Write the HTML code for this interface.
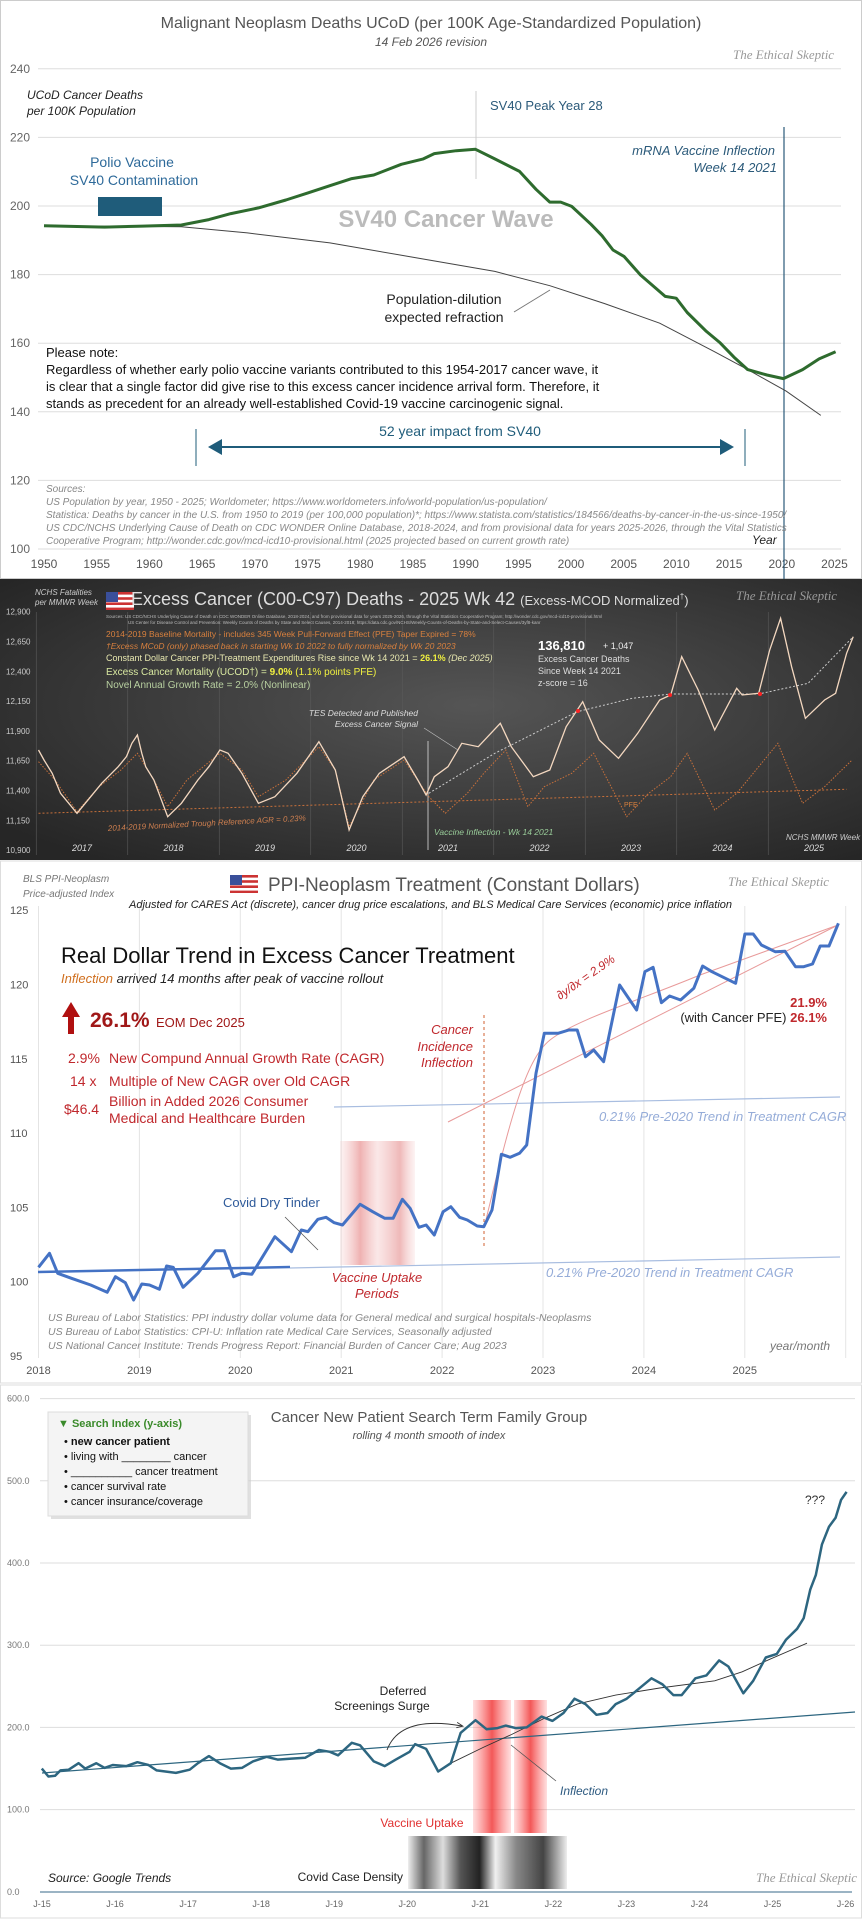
<!DOCTYPE html>
<html><head><meta charset="utf-8"><style>
html,body{margin:0;padding:0;background:#fff;}
svg{display:block;font-family:"Liberation Sans","DejaVu Sans",sans-serif;}
.wm{font-family:"Liberation Serif",serif;font-style:italic;fill:#999;font-size:13px;}
</style></head><body>
<svg id="s" width="862" height="1922" viewBox="0 0 862 1922" xmlns="http://www.w3.org/2000/svg">
<defs>
<radialGradient id="dk" cx="0.55" cy="0.45" r="0.7">
<stop offset="0" stop-color="#555"/><stop offset="1" stop-color="#262626"/></radialGradient>
<linearGradient id="pk" x1="0" x2="1" y1="0" y2="0">
<stop offset="0" stop-color="#f4c4c4" stop-opacity="0.2"/><stop offset="0.27" stop-color="#e89090" stop-opacity="0.7"/>
<stop offset="0.5" stop-color="#f6d0d0" stop-opacity="0.5"/><stop offset="0.8" stop-color="#e89a9a" stop-opacity="0.7"/>
<stop offset="1" stop-color="#f4c4c4" stop-opacity="0.2"/></linearGradient>
<linearGradient id="rd" x1="0" x2="1" y1="0" y2="0">
<stop offset="0" stop-color="#ff6060" stop-opacity="0.2"/><stop offset="0.5" stop-color="#f03a3a" stop-opacity="0.85"/><stop offset="1" stop-color="#ff6060" stop-opacity="0.2"/></linearGradient>
<linearGradient id="gr" x1="0" x2="1" y1="0" y2="0">
<stop offset="0" stop-color="#eee"/><stop offset="0.1" stop-color="#666"/><stop offset="0.22" stop-color="#ddd"/><stop offset="0.33" stop-color="#555"/>
<stop offset="0.45" stop-color="#222"/><stop offset="0.55" stop-color="#f0f0f0"/><stop offset="0.68" stop-color="#888"/><stop offset="0.85" stop-color="#444"/><stop offset="1" stop-color="#eee"/></linearGradient>
<marker id="ah" markerWidth="8" markerHeight="8" refX="6" refY="4" orient="auto"><path d="M0,0 L7,4 L0,8 z" fill="#1f5c7a"/></marker>
<marker id="ak" markerWidth="8" markerHeight="8" refX="6" refY="4" orient="auto"><path d="M0,1 L7,4 L0,7" fill="none" stroke="#333"/></marker>
<g id="flag"><rect width="28" height="18" fill="#c33"/><rect y="2.6" width="28" height="2.6" fill="#fff"/><rect y="7.8" width="28" height="2.6" fill="#fff"/><rect y="13" width="28" height="2.6" fill="#fff"/><rect width="12" height="10" fill="#3a4f9a"/></g>
</defs>

<!-- PANEL 1 -->
<rect x="0.5" y="0.5" width="861" height="578" fill="#fff" stroke="#ccc"/>
<g id="p1grid" stroke="#ddd" stroke-width="1"></g>
<text x="431" y="28" text-anchor="middle" font-size="16" fill="#555">Malignant Neoplasm Deaths UCoD (per 100K Age-Standardized Population)</text>
<text x="431" y="46" text-anchor="middle" font-size="12" font-style="italic" fill="#555">14 Feb 2026 revision</text>
<text x="733" y="59" class="wm" font-size="12">The Ethical Skeptic</text>
<g font-size="12" fill="#666" id="p1y"></g>
<g font-size="12" fill="#555" id="p1x"></g>
<text x="27" y="99" font-size="12" font-style="italic" fill="#222">UCoD Cancer Deaths</text>
<text x="27" y="115" font-size="12" font-style="italic" fill="#222">per 100K Population</text>
<line x1="476" y1="91" x2="476" y2="179" stroke="#ccc"/>
<text x="490" y="110" font-size="13" fill="#2b5a7a">SV40  Peak Year 28</text>
<line x1="784" y1="127" x2="784" y2="579" stroke="#2b5a7a" stroke-width="1.2"/>
<text x="775" y="155" text-anchor="end" font-size="13" font-style="italic" fill="#2b5a7a">mRNA Vaccine Inflection</text>
<text x="777" y="172" text-anchor="end" font-size="13" font-style="italic" fill="#2b5a7a">Week 14 2021</text>
<text x="132" y="167" text-anchor="middle" font-size="14" fill="#2e6a9a">Polio Vaccine</text>
<text x="134" y="185" text-anchor="middle" font-size="14" fill="#2e6a9a">SV40 Contamination</text>
<rect x="98" y="197" width="64" height="19" fill="#1f5c7a"/>
<text x="446" y="227" text-anchor="middle" font-size="24" font-weight="bold" fill="#bbb">SV40 Cancer Wave</text>
<polyline id="p1blk" fill="none" stroke="#444" stroke-width="1"/>
<polyline id="p1g" fill="none" stroke="#2e6b2e" stroke-width="3" stroke-linejoin="round"/>
<text x="444" y="304" text-anchor="middle" font-size="14" fill="#222">Population-dilution</text>
<text x="444" y="322" text-anchor="middle" font-size="14" fill="#222">expected refraction</text>
<line x1="514" y1="312" x2="550" y2="290" stroke="#777"/>
<g font-size="13" fill="#111">
<text x="46" y="357">Please note:</text>
<text x="46" y="374">Regardless of whether early polio vaccine variants contributed to this 1954-2017 cancer wave, it</text>
<text x="46" y="391">is clear that a single factor did give rise to this excess cancer incidence arrival form. Therefore, it</text>
<text x="46" y="408">stands as precedent for an already well-established  Covid-19 vaccine carcinogenic signal.</text>
</g>
<text x="460" y="436" text-anchor="middle" font-size="14" fill="#1f5c7a">52 year impact from SV40</text>
<line x1="196" y1="429" x2="196" y2="466" stroke="#1f5c7a"/>
<line x1="745" y1="429" x2="745" y2="466" stroke="#1f5c7a"/>
<line x1="210" y1="447" x2="732" y2="447" stroke="#1f5c7a" stroke-width="2" marker-end="url(#ah)"/>
<line x1="732" y1="447" x2="210" y2="447" stroke="#1f5c7a" stroke-width="2" marker-end="url(#ah)"/>
<g font-size="10" font-style="italic" fill="#888">
<text x="46" y="492">Sources:</text>
<text x="46" y="505">US Population by year, 1950 - 2025; Worldometer; https://www.worldometers.info/world-population/us-population/</text>
<text x="46" y="518">Statistica: Deaths by cancer in the U.S. from 1950 to 2019 (per 100,000 population)*; https://www.statista.com/statistics/184566/deaths-by-cancer-in-the-us-since-1950/</text>
<text x="46" y="531">US CDC/NCHS Underlying Cause of Death on CDC WONDER Online Database, 2018-2024, and from provisional data for years 2025-2026, through the Vital Statistics</text>
<text x="46" y="544">Cooperative Program; http://wonder.cdc.gov/mcd-icd10-provisional.html (2025 projected based on current growth rate)</text>
</g>
<text x="752" y="544" font-size="12" font-style="italic" fill="#222">Year</text>

<!-- PANEL 2 -->
<rect x="0" y="579" width="862" height="281" fill="url(#dk)"/>
<g id="p2grid" stroke="#5a5a5a" stroke-width="0.6"></g>
<g font-size="8" fill="#ccc" id="p2y"></g>
<g font-size="9" fill="#ddd" font-style="italic" id="p2x"></g>
<text x="35" y="595" font-size="8" font-style="italic" fill="#ccc">NCHS Fatalities</text>
<text x="35" y="605" font-size="8" font-style="italic" fill="#ccc">per MMWR Week</text>
<use href="#flag" x="106" y="592"/>
<text x="131" y="605" font-size="18" fill="#ddd">Excess Cancer (C00-C97) Deaths - 2025 Wk 42 <tspan font-size="13">(Excess-MCOD  Normalized</tspan><tspan font-size="8" dy="-6">†</tspan><tspan font-size="13" dy="6">)</tspan></text>
<text x="736" y="600" class="wm" font-size="11" fill="#aaa">The Ethical Skeptic</text>
<text x="106" y="618" font-size="4.5" fill="#bbb">Sources:   US CDC/NCHS Underlying Cause of Death on CDC WONDER Online Database, 2018-2024, and from provisional data for years 2025-2026, through the Vital Statistics Cooperative Program; http://wonder.cdc.gov/mcd-icd10-provisional.html</text>
<text x="128" y="624" font-size="4.5" fill="#bbb">US Center for Disease Control and Prevention: Weekly Counts of Deaths by State and Select Causes, 2014-2018; https://data.cdc.gov/NCHS/Weekly-Counts-of-Deaths-by-State-and-Select-Causes/3yf8-kanr</text>
<text x="106" y="637" font-size="8.5" fill="#d8803e">2014-2019 Baseline Mortality - includes 345 Week Pull-Forward Effect (PFE) Taper Expired =   78%</text>
<text x="106" y="649" font-size="8.5" font-style="italic" fill="#d8803e">†Excess MCoD (only) phased back in starting Wk 10 2022 to fully normalized by Wk 20 2023</text>
<text x="106" y="661" font-size="9" fill="#e8e8b0">Constant Dollar Cancer PPI-Treatment Expenditures Rise since Wk 14 2021 = <tspan fill="#f0f040" font-weight="bold">26.1%</tspan> <tspan font-style="italic">(Dec 2025)</tspan></text>
<text x="106" y="675" font-size="10" fill="#d8e8a0">Excess Cancer Mortality (UCOD†) =   <tspan fill="#f0f040" font-weight="bold">9.0%</tspan>   <tspan fill="#f0f040">(1.1%  points PFE)</tspan></text>
<text x="106" y="688" font-size="10" fill="#b8d0a0">Novel Annual Growth Rate  =          2.0%    (Nonlinear)</text>
<text x="538" y="650" font-size="13" font-weight="bold" fill="#fff">136,810</text>
<text x="603" y="649" font-size="9" fill="#eee">+ 1,047</text>
<text x="538" y="662" font-size="9" fill="#ddd">Excess Cancer Deaths</text>
<text x="538" y="674" font-size="9" fill="#ddd">Since Week 14 2021</text>
<text x="538" y="686" font-size="9" fill="#ddd">z-score =  16</text>
<line x1="428" y1="741" x2="428" y2="850" stroke="#ddd" stroke-width="0.8"/>
<polyline id="p2tr" fill="none" stroke="#c8703a" stroke-width="1" stroke-dasharray="2,2"/>
<polyline id="p2o" fill="none" stroke="#c8703a" stroke-width="1" stroke-dasharray="1.5,1.5"/>
<polyline id="p2d" fill="none" stroke="#ccc" stroke-width="1" stroke-dasharray="2,2"/>
<polyline id="p2w" fill="none" stroke="#f4d8c0" stroke-width="1.3"/>
<g fill="#f22"><circle cx="578" cy="711" r="2"/><circle cx="670" cy="695" r="2"/><circle cx="760" cy="694" r="2"/></g>
<text x="418" y="716" text-anchor="end" font-size="8.5" font-style="italic" fill="#ddd">TES Detected and Published</text>
<text x="418" y="727" text-anchor="end" font-size="8.5" font-style="italic" fill="#ddd">Excess Cancer Signal</text>
<line x1="424" y1="728" x2="458" y2="750" stroke="#bbb" stroke-width="0.7"/>
<text x="434" y="835" font-size="8.5" font-style="italic" fill="#9c9">Vaccine Inflection - Wk 14 2021</text>
<text x="108" y="831" font-size="8" font-style="italic" fill="#d08050" transform="rotate(-3 108 831)">2014-2019 Normalized  Trough Reference  AGR = 0.23%</text>
<text x="624" y="807" font-size="7" fill="#d8803e">PFE</text>
<text x="786" y="840" font-size="8" font-style="italic" fill="#ccc">NCHS MMWR Week</text>

<!-- PANEL 3 -->
<rect x="0.5" y="861" width="861" height="522" fill="#fff" stroke="#ddd"/>
<g id="p3grid" stroke="#e4e4e4" stroke-width="1"></g>
<g font-size="11" fill="#555" id="p3y"></g>
<g font-size="11" fill="#555" id="p3x"></g>
<text x="23" y="882" font-size="10" font-style="italic" fill="#777">BLS PPI-Neoplasm</text>
<text x="23" y="897" font-size="10" font-style="italic" fill="#777">Price-adjusted  Index</text>
<use href="#flag" x="230" y="875"/>
<text x="268" y="891" font-size="19" fill="#555">PPI-Neoplasm  Treatment  (Constant Dollars)</text>
<text x="728" y="886" class="wm" font-size="12">The Ethical Skeptic</text>
<text x="129" y="908" font-size="11" font-style="italic" fill="#222">Adjusted for CARES Act (discrete),  cancer drug price escalations, and BLS Medical  Care Services  (economic)  price  inflation</text>
<rect x="340" y="1141" width="75" height="124" fill="url(#pk)"/>
<line x1="484" y1="1015" x2="484" y2="1248" stroke="#d06030" stroke-dasharray="3,3"/>
<line x1="334" y1="1107" x2="840" y2="1097" stroke="#a8bde0" stroke-width="1.2"/>
<line x1="290" y1="1268" x2="840" y2="1257" stroke="#a8bde0" stroke-width="1.2"/>
<line x1="38" y1="1272" x2="290" y2="1267" stroke="#4472c4" stroke-width="2.5"/>
<line x1="448" y1="1122" x2="838" y2="925" stroke="#e89a9a" stroke-width="1"/>
<path id="p3c" fill="none" stroke="#e89a9a" stroke-width="1"/>
<polyline id="p3b" fill="none" stroke="#4472c4" stroke-width="3" stroke-linejoin="round"/>
<text x="61" y="963" font-size="22" fill="#111">Real Dollar Trend in Excess Cancer Treatment</text>
<text x="61" y="983" font-size="13" font-style="italic" fill="#222"><tspan fill="#d07020">Inflection</tspan> arrived 14 months after peak of vaccine rollout</text>
<path d="M68,1034 L68,1017 L62,1017 L71,1002 L80,1017 L74,1017 L74,1034 Z" fill="#b01010"/>
<text x="90" y="1027" font-size="21" font-weight="bold" fill="#a01818">26.1%</text>
<text x="156" y="1027" font-size="13" fill="#a01818">EOM Dec 2025</text>
<g font-size="14" fill="#c0282d">
<text x="68" y="1063">2.9%</text><text x="109" y="1063">New Compund Annual Growth Rate (CAGR)</text>
<text x="70" y="1086">14 x</text><text x="109" y="1086">Multiple of New CAGR over Old CAGR</text>
<text x="64" y="1114">$46.4</text><text x="109" y="1106">Billion in Added 2026 Consumer</text><text x="109" y="1123">Medical and Healthcare Burden</text>
</g>
<g font-size="13" font-style="italic" fill="#c0282d" text-anchor="end">
<text x="473" y="1034">Cancer</text><text x="473" y="1051">Incidence</text><text x="473" y="1067">Inflection</text></g>
<text x="560" y="1000" font-size="12" font-style="italic" fill="#c0282d" transform="rotate(-35 560 1000)">∂y/∂x = 2.9%</text>
<text x="827" y="1007" text-anchor="end" font-size="13" font-weight="bold" fill="#c0282d">21.9%</text>
<text x="827" y="1022" text-anchor="end" font-size="13" fill="#222">(with Cancer PFE)  <tspan fill="#c0282d" font-weight="bold">26.1%</tspan></text>
<text x="599" y="1121" font-size="13" font-style="italic" fill="#95acd8">0.21%  Pre-2020 Trend in Treatment CAGR</text>
<text x="546" y="1277" font-size="13" font-style="italic" fill="#95acd8">0.21%  Pre-2020 Trend in Treatment CAGR</text>
<text x="223" y="1207" font-size="13" fill="#2e5a9a">Covid Dry Tinder</text>
<line x1="285" y1="1217" x2="318" y2="1250" stroke="#555" stroke-width="0.8"/>
<text x="377" y="1282" text-anchor="middle" font-size="13" font-style="italic" fill="#c0282d">Vaccine Uptake</text>
<text x="377" y="1298" text-anchor="middle" font-size="13" font-style="italic" fill="#c0282d">Periods</text>
<g font-size="10.5" font-style="italic" fill="#888">
<text x="48" y="1321">US Bureau of Labor Statistics: PPI industry dollar volume data for General medical and surgical hospitals-Neoplasms</text>
<text x="48" y="1335">US Bureau of Labor Statistics: CPI-U: Inflation rate Medical Care Services, Seasonally adjusted</text>
<text x="48" y="1349">US National Cancer Institute: Trends Progress Report: Financial Burden of Cancer Care; Aug 2023</text></g>
<text x="770" y="1350" font-size="12" font-style="italic" fill="#777">year/month</text>

<!-- PANEL 4 -->
<rect x="0.5" y="1385" width="861" height="533" fill="#fff" stroke="#ddd"/>
<g id="p4grid" stroke="#ddd" stroke-width="1"></g>
<g font-size="9" fill="#777" id="p4y"></g>
<g font-size="9" fill="#666" id="p4x"></g>
<line x1="40" y1="1892" x2="852" y2="1892" stroke="#7a9cb0" stroke-width="1.5"/>
<text x="429" y="1422" text-anchor="middle" font-size="15" fill="#555">Cancer New Patient Search Term Family Group</text>
<text x="429" y="1439" text-anchor="middle" font-size="11" font-style="italic" fill="#555">rolling 4 month smooth of index</text>
<rect x="51" y="1415" width="200" height="104" fill="#ccc" opacity="0.6"/>
<rect x="48" y="1412" width="200" height="104" fill="#f4f4f4" stroke="#ddd"/>
<text x="58" y="1427" font-size="11" font-weight="bold" fill="#3a8a2a">▼ Search Index (y-axis)</text>
<g font-size="11" fill="#111">
<text x="64" y="1445">•  <tspan font-weight="bold">new cancer patient</tspan></text>
<text x="64" y="1460">•  living with ________ cancer</text>
<text x="64" y="1475">•  __________ cancer treatment</text>
<text x="64" y="1490">•  cancer survival rate</text>
<text x="64" y="1505">•  cancer insurance/coverage</text></g>
<rect x="473" y="1700" width="38" height="133" fill="url(#rd)"/>
<rect x="514" y="1700" width="33" height="133" fill="url(#rd)"/>
<rect x="408" y="1836" width="159" height="53" fill="url(#gr)"/>
<line x1="42" y1="1773" x2="855" y2="1712" stroke="#2d6680" stroke-width="1.2"/>
<polyline id="p4k" fill="none" stroke="#333" stroke-width="0.9"/>
<polyline id="p4b" fill="none" stroke="#2d6680" stroke-width="2.5" stroke-linejoin="round"/>
<text x="403" y="1695" text-anchor="middle" font-size="12" fill="#222">Deferred</text>
<text x="382" y="1710" text-anchor="middle" font-size="12" fill="#222">Screenings Surge</text>
<path d="M387,1750 Q400,1715 462,1726" fill="none" stroke="#333" stroke-width="0.9" marker-end="url(#ak)"/>
<line x1="511" y1="1745" x2="556" y2="1781" stroke="#555" stroke-width="0.8"/>
<text x="560" y="1795" font-size="12" font-style="italic" fill="#2d5a80">Inflection</text>
<text x="422" y="1827" text-anchor="middle" font-size="12" fill="#e03030">Vaccine Uptake</text>
<text x="403" y="1881" text-anchor="end" font-size="12" fill="#222">Covid Case Density</text>
<text x="48" y="1882" font-size="12" font-style="italic" fill="#222">Source: Google Trends</text>
<text x="815" y="1504" text-anchor="middle" font-size="12" fill="#333">???</text>
<text x="756" y="1882" class="wm" font-size="12">The Ethical Skeptic</text>
</svg>
<script>
var NS="http://www.w3.org/2000/svg";
function el(p,t,a,txt){var e=document.createElementNS(NS,t);for(var k in a)e.setAttribute(k,a[k]);if(txt!=null)e.textContent=txt;document.getElementById(p).appendChild(e);}
function pts(arr,sx,sy,oy){return arr.map(function(p){return (p[0]/sx).toFixed(1)+","+(oy+p[1]/sy).toFixed(1)}).join(" ");}
function set(id,s){document.getElementById(id).setAttribute("points",s);}
// panel1
for(var v=100;v<=240;v+=20){var y=549-(v-100)*3.43;el("p1grid","line",{x1:38,x2:841,y1:y,y2:y});el("p1y","text",{x:10,y:y+4},v);}
for(var yr=1950;yr<=2025;yr+=5){var x=44+(yr-1950)*10.54;el("p1x","text",{x:x,y:568,"text-anchor":"middle"},yr);}
var g=[[80,632],[190,636],[260,633],[330,630],[380,615],[420,598],[470,582],[520,560],[560,540],[600,520],[640,500],[680,490],[730,460],[770,445],[790,430],[830,422],[865,418],[900,445],[945,480],[975,530],[1000,566],[1020,566],[1040,578],[1075,628],[1095,660],[1115,700],[1135,718],[1165,770],[1210,830],[1230,835],[1250,875],[1285,928],[1310,960],[1335,1000],[1360,1035],[1395,1050],[1425,1060],[1460,1035],[1490,1005],[1520,985]];
set("p1g",pts(g,1.819,2.8,0));
var bk=[[80,632],[330,635],[450,652],[600,680],[750,720],[900,760],[1000,800],[1100,850],[1200,905],[1300,985],[1360,1035],[1430,1095],[1493,1163]];
set("p1blk",pts(bk,1.819,2.8,0));
// panel2
var lab=["12,900","12,650","12,400","12,150","11,900","11,650","11,400","11,150","10,900"];
for(var i=0;i<9;i++){var y=611.7+i*29.8;el("p2y","text",{x:6,y:y+3},lab[i]);}
for(var i=0;i<9;i++){var x=82+(i-0.5)*91.5;el("p2grid","line",{x1:x,x2:x,y1:612,y2:855});}
var yrs=["2017","2018","2019","2020","2021","2022","2023","2024","2025"];
for(var i=0;i<9;i++){el("p2x","text",{x:82+i*91.5,y:851,"text-anchor":"middle"},yrs[i]);}
var w=[[70,630],[80,660],[95,700],[110,760],[140,820],[165,770],[185,730],[215,680],[230,650],[240,610],[250,585],[258,640],[265,680],[280,720],[305,830],[330,790],[360,720],[380,680],[400,630],[415,640],[440,700],[470,790],[500,770],[540,700],[580,605],[610,690],[635,870],[660,770],[690,700],[735,650],[760,720],[775,765],[790,710],[815,680],[840,610],[870,620],[910,550],[930,620],[970,710],[1000,690],[1030,560],[1060,485],[1090,600],[1125,655],[1160,580],[1200,480],[1220,465],[1240,350],[1270,450],[1300,570],[1340,445],[1350,465],[1380,460],[1400,330],[1420,235],[1440,380],[1465,535],[1500,480],[1520,460],[1540,340],[1552,290]];
set("p2w",pts(w,1.819,3,540));
var o=[[70,665],[100,720],[140,815],[180,740],[220,690],[250,640],[280,720],[305,800],[340,720],[400,640],[440,690],[470,770],[520,720],[580,620],[610,690],[635,860],[680,720],[735,660],[780,770],[810,820],[850,760],[880,700],[920,630],[960,800],[990,740],[1040,700],[1080,640],[1140,830],[1180,760],[1220,710],[1250,640],[1300,810],[1340,760],[1380,680],[1415,610],[1460,790],[1500,740],[1550,660]];
set("p2o",pts(o,1.819,3,540));
set("p2tr",pts([[70,820],[1540,748]],1.819,3,540));
set("p2d",pts([[780,760],[900,640],[1050,515],[1150,475],[1220,462],[1380,462],[1470,430],[1552,290]],1.819,3,540));
// panel3
for(var v=95;v<=125;v+=5){var y=1356-(v-95)*14.86;el("p3y","text",{x:10,y:y+4},v);}
for(var i=0;i<=8;i++){var x=38.5+i*100.9;el("p3grid","line",{x1:x,x2:x,y1:906,y2:1358});if(i<8)el("p3x","text",{x:x,y:1374,"text-anchor":"middle"},2018+i);}
var bl=[[70,1222],[90,1180],[105,1240],[130,1255],[165,1275],[195,1297],[210,1250],[228,1268],[243,1320],[258,1272],[272,1275],[290,1288],[303,1218],[315,1222],[333,1282],[360,1240],[392,1172],[408,1172],[425,1250],[440,1240],[458,1243],[500,1130],[530,1175],[548,1110],[560,1115],[578,1078],[593,1072],[608,1088],[623,1095],[655,1033],[678,1055],[700,1075],[715,1075],[732,1018],[746,1045],[762,1102],[775,1095],[790,1125],[806,1055],[820,1040],[836,1072],[850,1080],[868,1098],[880,1100],[895,1050],[912,883],[928,892],[945,880],[958,855],[975,640],[990,520],[1015,520],[1035,510],[1050,510],[1065,590],[1080,570],[1098,605],[1127,375],[1158,450],[1173,335],[1188,322],[1203,428],[1218,408],[1238,420],[1262,385],[1278,318],[1295,335],[1338,370],[1355,222],[1370,222],[1385,255],[1410,275],[1428,274],[1447,320],[1462,320],[1478,312],[1492,258],[1508,258],[1525,190]];
set("p3b",pts(bl,1.819,3,860));
document.getElementById("p3c").setAttribute("d","M484,1228 C510,1120 525,1060 550,1040 S640,1000 700,975 L838,925");
// panel4
var yl=["600.0","500.0","400.0","300.0","200.0","100.0","0.0"];
for(var i=0;i<7;i++){var y=1398.6+i*82.2;if(i<6)el("p4grid","line",{x1:40,x2:855,y1:y,y2:y});el("p4y","text",{x:7,y:y+3},yl[i]);}
var xl=["J-15","J-16","J-17","J-18","J-19","J-20","J-21","J-22","J-23","J-24","J-25","J-26"];
for(var i=0;i<12;i++){el("p4x","text",{x:42+i*73.05,y:1907,"text-anchor":"middle"},xl[i]);}
var sb=[[76,1140],[88,1162],[100,1160],[110,1145],[125,1143],[143,1125],[155,1140],[175,1125],[190,1138],[205,1130],[230,1133],[250,1122],[270,1130],[285,1145],[320,1152],[345,1143],[360,1125],[380,1105],[400,1125],[420,1140],[440,1138],[460,1120],[485,1107],[505,1115],[530,1112],[555,1110],[580,1088],[600,1093],[615,1103],[640,1068],[655,1075],[680,1120],[700,1133],[720,1115],[745,1093],[755,1072],[775,1085],[797,1148],[820,1125],[838,1040],[865,1005],[885,1030],[905,1027],[920,1020],[938,1027],[958,1025],[985,995],[1005,1007],[1025,985],[1045,945],[1065,960],[1085,990],[1105,985],[1120,960],[1140,945],[1160,920],[1185,888],[1205,905],[1225,935],[1240,935],[1265,888],[1285,880],[1308,838],[1325,855],[1352,930],[1370,895],[1393,830],[1413,820],[1430,780],[1450,750],[1462,720],[1474,640],[1484,600],[1495,515],[1508,465],[1520,440],[1530,390],[1540,368]];
set("p4b",pts(sb,1.819,2.79,1360));
set("p4k",pts([[820,1125],[880,1080],[930,1045],[990,1000],[1050,960],[1120,935],[1200,915],[1300,895],[1350,870],[1400,835],[1468,790]],1.819,2.79,1360));
</script>
</body></html>
